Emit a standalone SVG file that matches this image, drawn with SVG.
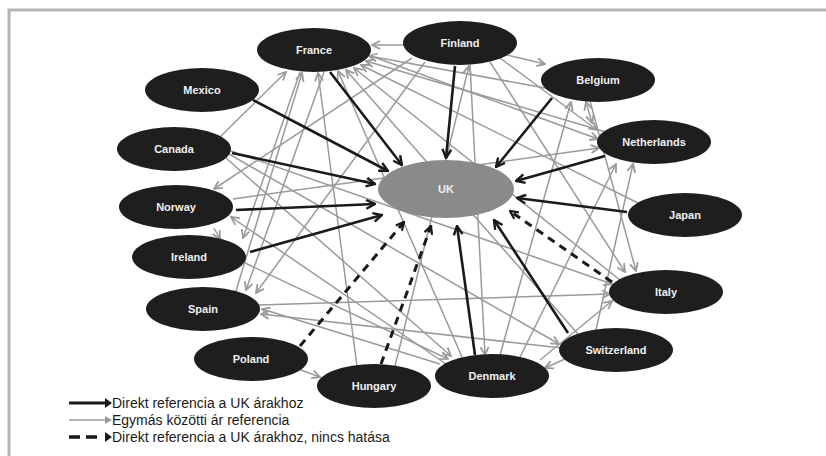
<svg xmlns="http://www.w3.org/2000/svg" width="826" height="456" viewBox="0 0 826 456">
<style>
.g{stroke:#9a9a9a;stroke-width:1.5;fill:none;marker-end:url(#ag)}
.b{stroke:#1a1a1a;stroke-width:2.6;fill:none;marker-end:url(#ab)}
.d{stroke:#1a1a1a;stroke-width:3;fill:none;stroke-dasharray:8 6;marker-end:url(#ad)}
.n{fill:#1e1e1e}
.t{fill:#f0f0f0;font-family:"Liberation Sans",Arial,sans-serif;font-weight:bold;font-size:11px;text-anchor:middle}
.l{fill:#1a1a1a;font-family:"Liberation Sans",Arial,sans-serif;font-size:14px}
</style>
<defs>
<marker id="ag" viewBox="0 0 10 10" refX="9" refY="5" markerWidth="10" markerHeight="10" markerUnits="userSpaceOnUse" orient="auto"><path d="M1,1 L9,5 L1,9" fill="none" stroke="#9a9a9a" stroke-width="1.8"/></marker>
<marker id="ab" viewBox="0 0 10 10" refX="9" refY="5" markerWidth="11" markerHeight="11" markerUnits="userSpaceOnUse" orient="auto"><path d="M1,1 L9,5 L1,9" fill="none" stroke="#1a1a1a" stroke-width="2.2"/></marker>
<marker id="ad" viewBox="0 0 10 10" refX="9" refY="5" markerWidth="10" markerHeight="10" markerUnits="userSpaceOnUse" orient="auto"><path d="M1,1 L9,5 L1,9" fill="none" stroke="#1a1a1a" stroke-width="2.2"/></marker>
<marker id="agd" viewBox="0 0 10 10" refX="1" refY="5" markerWidth="10" markerHeight="10" markerUnits="userSpaceOnUse" orient="auto"><path d="M9,1 L1,5 L9,9" fill="none" stroke="#9a9a9a" stroke-width="1.8"/></marker>
</defs>
<rect width="826" height="456" fill="#ffffff"/>
<path d="M9,456 L9,10 L826,10" fill="none" stroke="#b4b4b4" stroke-width="3"/>
<g id="connectors">
<path class="g" d="M404,45 L372,45"/>
<path class="g" d="M507,55 L545,64"/>
<path class="g" d="M586,102 L592,123" marker-start="url(#agd)"/>
<path class="g" d="M220,137 L286,72"/>
<path class="g" d="M236,291 L302,73"/>
<path class="g" d="M357,366 L318,73"/>
<path class="g" d="M462,357 L338,71"/>
<path class="g" d="M578,334 L346,70"/>
<path class="g" d="M620,280 L354,68"/>
<path class="g" d="M638,203 L361,65"/>
<path class="g" d="M606,132 L366,61"/>
<path class="g" d="M545,88 L369,56"/>
<path class="g" d="M412,58 L214,189"/>
<path class="g" d="M300,72 L243,238"/>
<path class="g" d="M324,72 L246,290"/>
<path class="g" d="M425,62 L256,293"/>
<path class="g" d="M446,364 L231,217"/>
<path class="g" d="M214,228 L220,239"/>
<path class="g" d="M226,158 L451,356"/>
<path class="g" d="M229,154 L559,344"/>
<path class="g" d="M231,151 L612,284"/>
<path class="g" d="M259,305 L610,294"/>
<path class="g" d="M440,364 L262,309"/>
<path class="g" d="M562,348 L261,314"/>
<path class="g" d="M298,369 L320,377"/>
<path class="g" d="M245,263 L448,359"/>
<path class="g" d="M470,65 L485,355"/>
<path class="g" d="M395,366 L469,66"/>
<path class="g" d="M500,58 L597,130"/>
<path class="g" d="M371,56 L598,139"/>
<path class="g" d="M233,199 L599,148"/>
<path class="g" d="M500,355 L571,102"/>
<path class="g" d="M520,357 L616,164"/>
<path class="g" d="M596,330 L633,164"/>
<path class="g" d="M490,62 L625,272"/>
<path class="g" d="M590,101 L636,271"/>
<path class="g" d="M540,360 L612,301"/>
<path class="g" d="M565,359 L545,368"/>
<path class="b" d="M253,100 L388,171"/>
<path class="b" d="M330,72 L402,165"/>
<path class="b" d="M455,66 L446,158"/>
<path class="b" d="M552,98 L496,167"/>
<path class="b" d="M605,156 L516,181"/>
<path class="b" d="M232,153 L375,184"/>
<path class="b" d="M236,210 L375,204"/>
<path class="b" d="M250,252 L382,215"/>
<path class="b" d="M627,212 L517,198"/>
<path class="b" d="M568,333 L494,220"/>
<path class="b" d="M475,355 L457,226"/>
<path class="d" d="M300,346 L404,222"/>
<path class="d" d="M381,364 L431,226"/>
<path class="d" d="M612,282 L510,211"/>
</g>
<g id="UK"><ellipse cx="446" cy="189" rx="68" ry="29" fill="#8a8a8a"/><text class="t" x="446" y="193">UK</text></g>
<g id="France"><ellipse class="n" cx="314" cy="50" rx="57" ry="22"/><text class="t" x="314" y="54">France</text></g>
<g id="Finland"><ellipse class="n" cx="460" cy="43" rx="57" ry="22"/><text class="t" x="460" y="47">Finland</text></g>
<g id="Belgium"><ellipse class="n" cx="598" cy="80" rx="57" ry="22"/><text class="t" x="598" y="84">Belgium</text></g>
<g id="Netherlands"><ellipse class="n" cx="654" cy="142" rx="57" ry="22"/><text class="t" x="654" y="146">Netherlands</text></g>
<g id="Japan"><ellipse class="n" cx="685" cy="215" rx="57" ry="22"/><text class="t" x="685" y="219">Japan</text></g>
<g id="Italy"><ellipse class="n" cx="666" cy="292" rx="57" ry="22"/><text class="t" x="666" y="296">Italy</text></g>
<g id="Switzerland"><ellipse class="n" cx="616" cy="350" rx="57" ry="22"/><text class="t" x="616" y="354">Switzerland</text></g>
<g id="Denmark"><ellipse class="n" cx="492" cy="376" rx="57" ry="22"/><text class="t" x="492" y="380">Denmark</text></g>
<g id="Hungary"><ellipse class="n" cx="374" cy="386" rx="57" ry="22"/><text class="t" x="374" y="390">Hungary</text></g>
<g id="Poland"><ellipse class="n" cx="251" cy="359" rx="57" ry="22"/><text class="t" x="251" y="363">Poland</text></g>
<g id="Spain"><ellipse class="n" cx="203" cy="309" rx="57" ry="22"/><text class="t" x="203" y="313">Spain</text></g>
<g id="Ireland"><ellipse class="n" cx="189" cy="257" rx="57" ry="22"/><text class="t" x="189" y="261">Ireland</text></g>
<g id="Norway"><ellipse class="n" cx="176" cy="207" rx="57" ry="22"/><text class="t" x="176" y="211">Norway</text></g>
<g id="Canada"><ellipse class="n" cx="174" cy="149" rx="57" ry="22"/><text class="t" x="174" y="153">Canada</text></g>
<g id="Mexico"><ellipse class="n" cx="202" cy="90" rx="57" ry="22"/><text class="t" x="202" y="94">Mexico</text></g>
<g id="legend">
<path d="M69,403 L108,403" stroke="#1a1a1a" stroke-width="3" fill="none"/>
<path d="M105,398 L112,403 L105,408 Z" fill="#1a1a1a"/>
<path d="M69,420 L108,420" stroke="#9a9a9a" stroke-width="1.5" fill="none"/>
<path d="M105,416 L112,420 L105,424 Z" fill="#9a9a9a"/>
<path d="M69,437 L80,437 M86,437 L97,437" stroke="#1a1a1a" stroke-width="3.5" fill="none"/>
<path d="M105,432 L112,437 L105,442 Z" fill="#1a1a1a"/>
<text class="l" x="112" y="408">Direkt referencia a UK árakhoz</text>
<text class="l" x="112" y="425">Egymás közötti ár referencia</text>
<text class="l" x="112" y="442">Direkt referencia a UK árakhoz, nincs hatása</text>
</g>
</svg>
